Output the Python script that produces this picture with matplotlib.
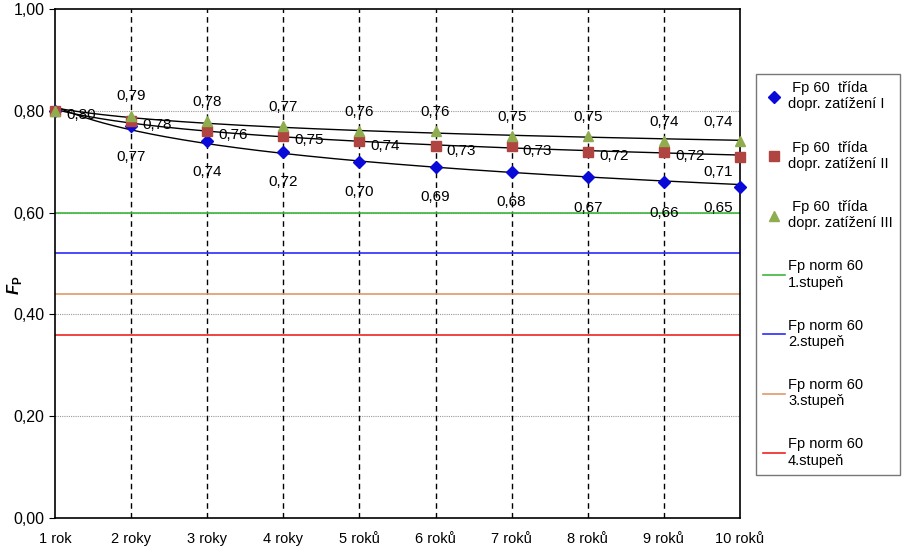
import numpy as np
import matplotlib.pyplot as plt
from matplotlib.ticker import FuncFormatter

plt.rcParams['font.family'] = ['Liberation Sans', 'DejaVu Sans']
plt.rcParams['mathtext.fontset'] = 'custom'
plt.rcParams['mathtext.bf'] = 'Liberation Sans:bold'
plt.rcParams['mathtext.bfit'] = 'Liberation Sans:bold:italic'

years = ['1 rok', '2 roky', '3 roky', '4 roky', '5 roků', '6 roků', '7 roků', '8 roků', '9 roků', '10 roků']
fp_I = [0.80, 0.77, 0.74, 0.72, 0.70, 0.69, 0.68, 0.67, 0.66, 0.65]
fp_II = [0.80, 0.78, 0.76, 0.75, 0.74, 0.73, 0.73, 0.72, 0.72, 0.71]
fp_III = [0.80, 0.79, 0.78, 0.77, 0.76, 0.76, 0.75, 0.75, 0.74, 0.74]
norm_levels = [0.60, 0.52, 0.44, 0.36]
norm_labels = ['Fp norm 60\n1.stupeň', 'Fp norm 60\n2.stupeň', 'Fp norm 60\n3.stupeň', 'Fp norm 60\n4.stupeň']
norm_colors = ['#3cb83c', '#2b2bff', '#e09a68', '#ee2222']

x = np.arange(1, len(years) + 1)

fig = plt.figure(figsize=(9.07, 5.46), dpi=100)
ax = fig.add_axes([0.0606, 0.0513, 0.7553, 0.9322])

ax.set_xlim(1, 10)
ax.set_ylim(0, 1)

# gridlines
for yv in [0.2, 0.4, 0.6, 0.8]:
    ax.axhline(yv, color='#999999', lw=0.8, ls=(0, (1, 1)), zorder=1)
for xv in x[1:-1]:
    ax.axvline(xv, color='black', lw=1.0, ls=(0, (4, 3)), zorder=1)

# norm lines
norm_handles = []
for lvl, lab, col in zip(norm_levels, norm_labels, norm_colors):
    norm_handles.append(ax.axhline(lvl, color=col, lw=1.2, zorder=2, label=lab))

# trend lines (log fit)
xs = np.linspace(1, 10, 200)
for vals in [fp_I, fp_II, fp_III]:
    a, b = np.polyfit(np.log(x), vals, 1)
    ax.plot(xs, a * np.log(xs) + b, color='black', lw=1.0, zorder=3)

h1, = ax.plot(x, fp_I, ls='none', marker='D', ms=6, color='#0a0ad8', zorder=4, clip_on=False,
              label=' Fp 60  třída\ndopr. zatížení I')
h2, = ax.plot(x, fp_II, ls='none', marker='s', ms=7, color='#b04440', zorder=4, clip_on=False,
              label=' Fp 60  třída\ndopr. zatížení II')
h3, = ax.plot(x, fp_III, ls='none', marker='^', ms=7, color='#8fac4e', zorder=4, clip_on=False,
              label=' Fp 60  třída\ndopr. zatížení III')

fmt = lambda v: f'{v:.2f}'.replace('.', ',')
n = len(x)
for i, (xi, v) in enumerate(zip(x, fp_I)):
    if i == 0:
        continue
    off = (-16, -15) if i == n - 1 else (0, -22)
    ax.annotate(fmt(v), (xi, v), xytext=off, textcoords='offset points',
                ha='center', va='center', fontsize=11)
for i, (xi, v) in enumerate(zip(x, fp_II)):
    if i == n - 1:
        ax.annotate(fmt(v), (xi, v), xytext=(-16, -11), textcoords='offset points',
                    ha='center', va='center', fontsize=11)
    else:
        ax.annotate(fmt(v), (xi, v), xytext=(8, -3), textcoords='offset points',
                    ha='left', va='center', fontsize=11)
for i, (xi, v) in enumerate(zip(x, fp_III)):
    if i == 0:
        continue
    off = (-16, 14) if i == n - 1 else (0, 14)
    ax.annotate(fmt(v), (xi, v), xytext=off, textcoords='offset points',
                ha='center', va='center', fontsize=11)

ax.set_xticks(x)
ax.set_xticklabels(years, family=['Liberation Sans Narrow', 'Liberation Sans'], fontsize=10.5)
ax.tick_params(axis='x', length=0, pad=10)
ax.set_yticks(np.arange(0, 1.01, 0.2))
ax.yaxis.set_major_formatter(FuncFormatter(lambda v, p: fmt(v)))
ax.tick_params(axis='y', length=4, labelsize=11.5, direction='out')
for s in ax.spines.values():
    s.set_linewidth(1.2)

fig.text(14 / 907, 1 - 285 / 546, r'$\mathbfit{F}_{\mathbf{P}}$', fontsize=12,
         rotation=90, ha='center', va='center')

handles = [h1, h2, h3] + norm_handles
labels = [h.get_label() for h in handles]
leg = fig.legend(handles, labels, loc='upper left', bbox_to_anchor=(756 / 907, 1 - 74 / 546),
                 fontsize=10.5, labelspacing=2.0, handlelength=1.5, handletextpad=0.2,
                 fancybox=False, edgecolor='#555555', borderpad=0.5, borderaxespad=0)
leg.get_frame().set_linewidth(1.0)

fig.savefig('out.png', dpi=100)
